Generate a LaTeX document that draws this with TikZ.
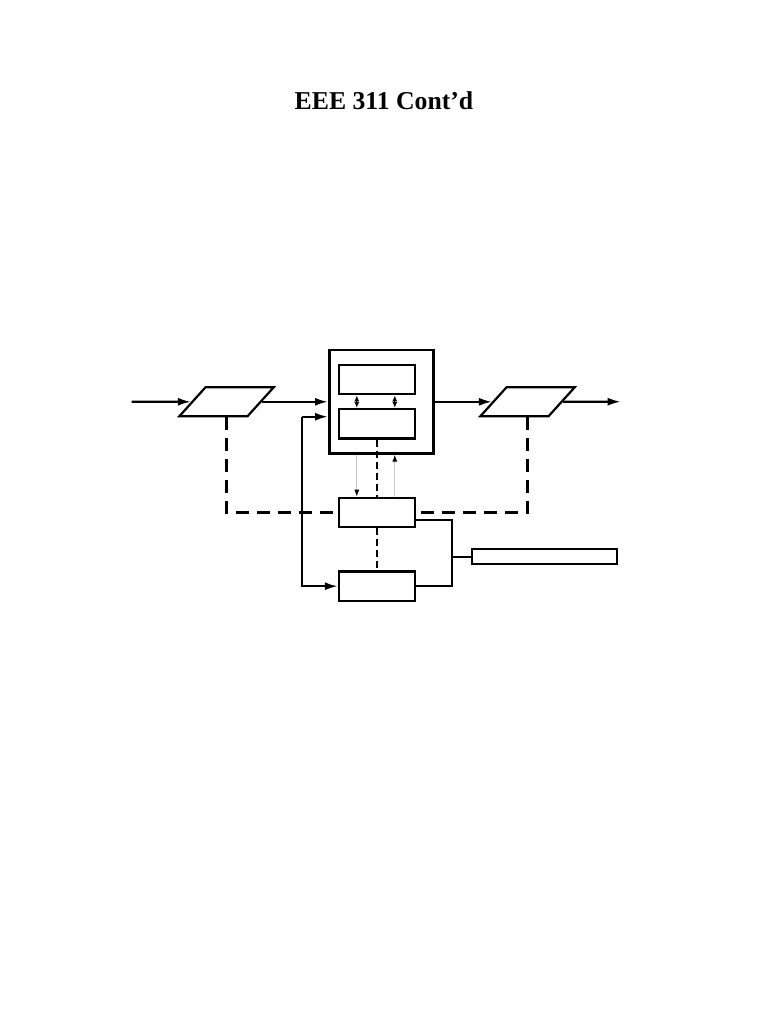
\documentclass[tikz,border=0pt]{standalone}
\usepackage{fontspec}
\setmainfont{Liberation Serif}
\usetikzlibrary{arrows.meta,shapes.geometric}
\tikzset{
	blk/.style={draw, minimum width=75.7pt, minimum height=29.5pt, inner sep=0pt},
	io/.style={draw, trapezium, trapezium stretches=true, trapezium left angle=58, trapezium right angle=122, minimum width=94.4pt, minimum height=29pt, inner sep=2pt},
	longdash/.style={dash pattern=on 13pt off 8pt},
	shortdash/.style={dash pattern=on 7pt off 4pt},
	small/.style={line width=1.2pt, {Latex[length=6pt,width=5pt]}-{Latex[length=6pt,width=5pt]}},
	thin gray/.style={draw=gray!45, line width=0.9pt, -{Latex[length=7pt,width=5pt,black]}}
}

\begin{document}
\begin{tikzpicture}[x=1pt, y=-1pt, line width=2.2pt, >={Latex[length=13pt,width=8pt]}]
	\useasboundingbox (0,0) rectangle (768,1024);
	\node[anchor=base, font=\fontsize{25.7}{30}\selectfont\bfseries] (title) at (384,109.3) {EEE 311 Cont’d};

	\node[io] (enc) at (226.5,401.8) {};
	\node[io] (dec) at (527.5,401.8) {};
	\node[draw, line width=2.6pt, minimum width=104pt, minimum height=103.3pt] (proc) at (381.3,401.7) {};
	\node[blk] (top) at (376.8,379.5) {};
	\node[blk] (inner) at (376.8,423.8) {};
	\node[blk] (mid) at (376.8,512.5) {};
	\node[blk] (low) at (376.8,586.2) {};
	\node[draw, minimum width=145pt, minimum height=14.7pt] (bar) at (544.2,556.7) {};

	\coordinate (in) at (131.7,401.7);
	\coordinate (out) at (620.7,401.7);
	\coordinate (fb) at (301.7,416.7);
	\coordinate (hub) at (452.3,520);
	\coordinate (ga) at ([xshift=-20pt]mid.north);
	\coordinate (gb) at ([xshift=18pt]mid.north);

	% main path
	\draw[->] (in) -- (enc.west);
	\draw[->] (enc.east) -- (proc.west |- enc.east);
	\draw[->] (proc.east |- dec.west) -- (dec.west);
	\draw[->] (dec.east) -- (out);
	\draw[->] (fb) -- (fb -| proc.west);
	\draw[->] (fb) |- (low.west);

	\draw[small] ([xshift=-20pt]top.south) -- ([xshift=-20pt]inner.north);
	\draw[small] ([xshift=18pt]top.south) -- ([xshift=18pt]inner.north);
	\draw[thin gray] (ga |- proc.south) -- (ga);
	\draw[thin gray] (gb) -- (gb |- proc.south);

	% dashed links
	\draw[longdash] (enc.south) |- (mid.west);
	\draw[longdash] (dec.south) |- (mid.east);
	\draw[shortdash] (inner.south) -- (mid.north);
	\draw[shortdash] (mid.south) -- (low.north);

	\draw (mid.east |- hub) -- (hub) |- (low.east);
	\draw (hub |- bar.west) -- (bar.west);
\end{tikzpicture}
\end{document}
